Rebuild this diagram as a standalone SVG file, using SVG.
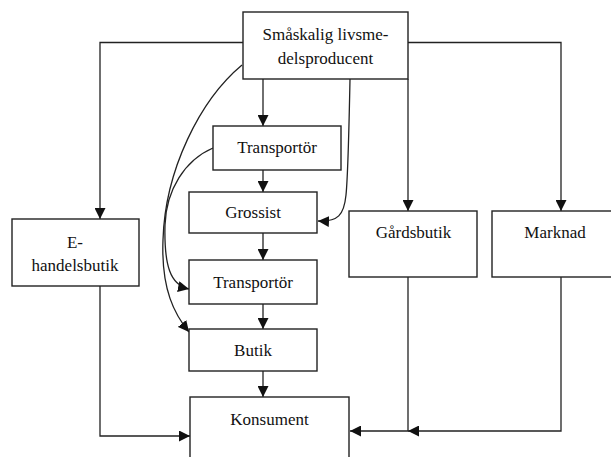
<svg xmlns="http://www.w3.org/2000/svg" width="611" height="457" viewBox="0 0 611 457">
<style>
.box{fill:#fff;stroke:#222;stroke-width:1.4}
.t{font-family:'Liberation Serif','DejaVu Serif',serif;font-size:17px;fill:#111;text-anchor:middle}
.c{fill:none;stroke:#222;stroke-width:1.3}
</style>
<defs>
<marker id="ah" markerWidth="11" markerHeight="11" refX="11" refY="5.5" orient="auto" markerUnits="userSpaceOnUse">
<path d="M0,0 L11,5.5 L0,11 Z" fill="#111"/>
</marker>
</defs>
<rect width="611" height="457" fill="#fff"/>
<g id="connectors">
<path class="c" d="M263,79 V126" marker-end="url(#ah)"/>
<path class="c" d="M263,170 V192" marker-end="url(#ah)"/>
<path class="c" d="M263,233 V260" marker-end="url(#ah)"/>
<path class="c" d="M263,304 V329" marker-end="url(#ah)"/>
<path class="c" d="M263,371 V397" marker-end="url(#ah)"/>
<path class="c" d="M243,42.5 H100 V219" marker-end="url(#ah)"/>
<path class="c" d="M408,42.5 H561 V211" marker-end="url(#ah)"/>
<path class="c" d="M408,79 V211" marker-end="url(#ah)"/>
<path class="c" d="M100,286 V436 H190" marker-end="url(#ah)"/>
<path class="c" d="M408,277 V431 H350" marker-end="url(#ah)"/>
<path class="c" d="M561,277 V431 H408" marker-end="url(#ah)"/>
<path class="c" d="M350,79 C349,130 348,175 346,195 C344,215 338,222 318,221" marker-end="url(#ah)"/>
<path class="c" d="M242,65 C200,100 165,170 163,240 C161,290 175,315 189,332" marker-end="url(#ah)"/>
<path class="c" d="M213,148 C185,160 166,190 165,225 C164,265 170,285 189,289" marker-end="url(#ah)"/>
</g>
<g id="producer"><rect class="box" x="243" y="12" width="165" height="67"/><text class="t" font-family="Liberation Serif, serif" x="325.5" y="40">Småskalig livsme-</text><text class="t" font-family="Liberation Serif, serif" x="325.5" y="64">delsproducent</text></g>
<g id="transportor1"><rect class="box" x="213" y="126" width="128" height="44"/><text class="t" font-family="Liberation Serif, serif" x="277" y="153">Transportör</text></g>
<g id="grossist"><rect class="box" x="189" y="192" width="128" height="41"/><text class="t" font-family="Liberation Serif, serif" x="253" y="218">Grossist</text></g>
<g id="transportor2"><rect class="box" x="189" y="260" width="128" height="44"/><text class="t" font-family="Liberation Serif, serif" x="253" y="288">Transportör</text></g>
<g id="butik"><rect class="box" x="189" y="329" width="128" height="42"/><text class="t" font-family="Liberation Serif, serif" x="253" y="356">Butik</text></g>
<g id="konsument"><rect class="box" x="190" y="397" width="159" height="70"/><text class="t" font-family="Liberation Serif, serif" x="269.5" y="425">Konsument</text></g>
<g id="ehandel"><rect class="box" x="12" y="219" width="127" height="67"/><text class="t" font-family="Liberation Serif, serif" x="75" y="248">E-</text><text class="t" font-family="Liberation Serif, serif" x="75" y="271">handelsbutik</text></g>
<g id="gardsbutik"><rect class="box" x="349" y="211" width="128" height="66"/><text class="t" font-family="Liberation Serif, serif" x="413.5" y="238">Gårdsbutik</text></g>
<g id="marknad"><rect class="box" x="492" y="211" width="130" height="66"/><text class="t" font-family="Liberation Serif, serif" x="555" y="238">Marknad</text></g>
</svg>
